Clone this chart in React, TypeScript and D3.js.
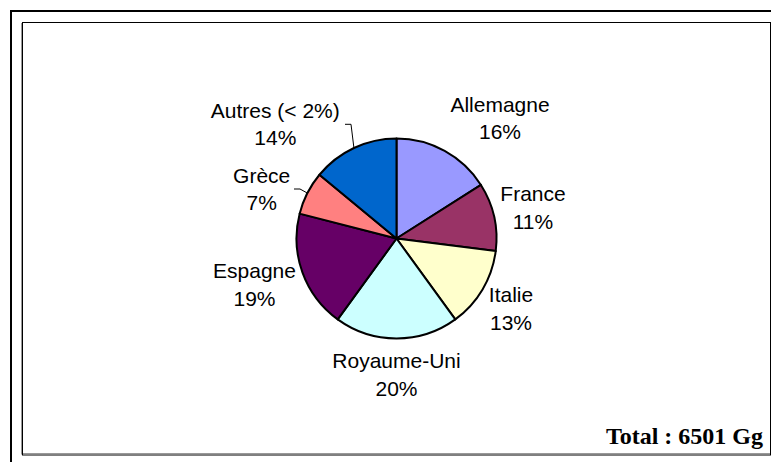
import React from "react";
import * as d3 from "d3";

const categories = ["Allemagne", "France", "Italie", "Royaume-Uni", "Espagne", "Grèce", "Autres (< 2%)"];
const values = [16, 11, 13, 20, 19, 7, 14];
const colors = ["#9999FF", "#993366", "#FFFFCC", "#CCFFFF", "#660066", "#FF8080", "#0066CC"];
const totalLabel = "Total : 6501 Gg";

// layout (first-line baseline positions of each label)
const labelPos: [number, number][] = [
  [500, 111.5],
  [533, 201],
  [511, 302],
  [396.5, 368],
  [254.5, 278],
  [261.7, 182.5],
  [275.3, 117.5],
];
// leader elbows: [elbowX, elbowY, endX] (null = no leader)
const leaders: ([number, number, number] | null)[] = [
  null, null, null, null, null,
  [300, 189, 294],
  [351, 124.3, 345],
];

const W = 771;
const H = 462;
const CX = 396.5;
const CY = 238.5;
const R = 100;
const LINE = 27.5;

export default function App() {
  const pie = d3.pie<number>().sort(null).value((d) => d).startAngle(0).endAngle(2 * Math.PI);
  const arcs = pie(values);
  const arc = d3.arc<d3.PieArcDatum<number>>().innerRadius(0).outerRadius(R);
  const edge = d3.arc<d3.PieArcDatum<number>>().innerRadius(R).outerRadius(R);

  return (
    <svg width={W} height={H} style={{ position: "absolute", left: 0, top: 0, background: "#fff" }}>
      <rect x={0} y={0} width={W} height={H} fill="#fff" />
      {/* outer frame */}
      <path d={`M11,${H} L11,11 L${W},11`} fill="none" stroke="#000" strokeWidth={2} />
      {/* inner frame */}
      <path d={`M21.5,23 L21.5,454.5`} fill="none" stroke="#999" strokeWidth={1} />
      <path d={`M22,453.5 L770,453.5`} fill="none" stroke="#999" strokeWidth={1} />
      <rect x={22.5} y={22.5} width={748} height={432.5} fill="none" stroke="#000" strokeWidth={1} />

      <g transform={`translate(${CX},${CY})`}>
        {arcs.map((a, i) => (
          <path key={i} d={arc(a) || ""} fill={colors[i]} stroke="#000" strokeWidth={2} strokeLinejoin="round" />
        ))}
      </g>

      {arcs.map((a, i) => {
        const l = leaders[i];
        if (!l) return null;
        const [px, py] = edge.centroid(a);
        return (
          <polyline
            key={"l" + i}
            points={`${CX + px},${CY + py} ${l[0]},${l[1]} ${l[2]},${l[1]}`}
            fill="none"
            stroke="#000"
            strokeWidth={1}
          />
        );
      })}

      {categories.map((c, i) => (
        <text
          key={"t" + i}
          x={labelPos[i][0]}
          y={labelPos[i][1]}
          textAnchor="middle"
          fontFamily="'Liberation Sans', Arial, sans-serif"
          fontSize={21}
          fill="#000"
        >
          <tspan x={labelPos[i][0]} y={labelPos[i][1]}>{c}</tspan>
          <tspan x={labelPos[i][0]} y={labelPos[i][1] + LINE}>{`${values[i]}%`}</tspan>
        </text>
      ))}

      <text
        x={763}
        y={444}
        textAnchor="end"
        fontFamily="'Liberation Serif', 'Times New Roman', serif"
        fontWeight="bold"
        fontSize={24}
        fill="#000"
      >
        {totalLabel}
      </text>
    </svg>
  );
}
